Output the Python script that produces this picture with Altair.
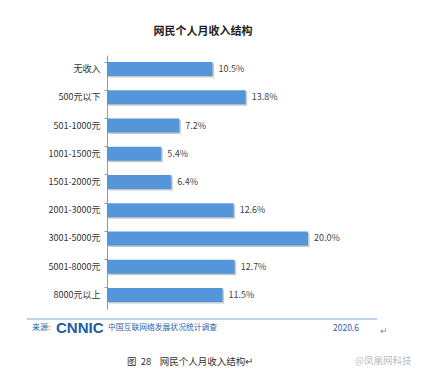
import altair as alt
import pandas as pd

categories = ["无收入", "500元以下", "501-1000元", "1001-1500元", "1501-2000元",
              "2001-3000元", "3001-5000元", "5001-8000元", "8000元以上"]
values = [10.5, 13.8, 7.2, 5.4, 6.4, 12.6, 20.0, 12.7, 11.5]

title_text = "网民个人月收入结构"
source_label = "来源:"
logo_text = "CNNIC"
survey_text = "中国互联网络发展状况统计调查"
date_text = "2020.6"
caption_text = "图\u00a0\u00a028\u00a0\u00a0\u00a0\u00a0网民个人月收入结构↵"
weibo_text = "@凤凰网科技"

df = pd.DataFrame({"cat": categories, "val": values})
df["label"] = [f"{v:.1f}%" for v in values]

FONT = "Noto Sans CJK SC"
BLUE = "#5596da"
DARK_BLUE = "#2a63b0"

x = alt.X("val:Q", scale=alt.Scale(domain=[0, 20], nice=False), axis=None)
y = alt.Y("cat:N", sort=categories, title=None,
          scale=alt.Scale(paddingInner=0.5, paddingOuter=0.25),
          axis=alt.Axis(labelFont=FONT, labelFontSize=9, labelColor="#333333",
                        labelPadding=4, domainColor="#999999", tickColor="#999999",
                        tickSize=3, bandPosition=0, ticks=True))

base = alt.Chart(df)
shadow = base.mark_bar(color="#c9c9c9", size=14, xOffset=1.5, yOffset=1.5).encode(x=x, y=y)
bars = base.mark_bar(color=BLUE, size=14).encode(x=x, y=y)
labels = base.mark_text(align="left", baseline="middle", dx=6, font=FONT,
                        fontSize=9, color="#444444").encode(x=x, y=y, text="label:N")

def note(text, xv, yv, **kw):
    return alt.Chart(pd.DataFrame({"t": [text]})).mark_text(font=FONT, baseline="middle", **kw).encode(
        x=alt.value(xv), y=alt.value(yv), text="t:N")

title = note(title_text, 96, -23, fontSize=11, fontWeight="bold", color="#222222", align="center")
footer_line = alt.Chart(pd.DataFrame({"a": [0]})).mark_rule(color="#a9c6e6", strokeWidth=1.5).encode(
    x=alt.value(-80), x2=alt.value(270), y=alt.value(264))
src = note(source_label, -75, 273, fontSize=8, color=DARK_BLUE, align="left")
logo = alt.Chart(pd.DataFrame({"t": [logo_text]})).mark_text(
    font="Liberation Sans", fontSize=15, fontWeight="bold", color="#1d5aa6",
    align="left", baseline="middle").encode(x=alt.value(-51), y=alt.value(273), text="t:N")
survey = note(survey_text, 1, 273, fontSize=7.8, color=DARK_BLUE, align="left")
date = note(date_text, 226, 273, fontSize=8.5, color=DARK_BLUE, align="left")
ret = note("↵", 273, 276, fontSize=9, color="#888888", align="left")
caption = note(caption_text, 20, 307, fontSize=9.5, color="#333333", align="left")
weibo = note(weibo_text, 248, 306, fontSize=9.5, color="#bbbbbb", align="left")

chart = alt.layer(shadow, bars, labels, title, footer_line, src, logo, survey, date, ret,
                  caption, weibo).properties(
    width=201, height=254,
    background="white",
    autosize=alt.AutoSizeParams(type="none"),
    padding={"left": 99, "top": 47, "right": 124, "bottom": 59},
).configure_view(strokeWidth=0, stroke=None)

chart.save("out.html", embed_options={"renderer": "svg", "actions": False})
